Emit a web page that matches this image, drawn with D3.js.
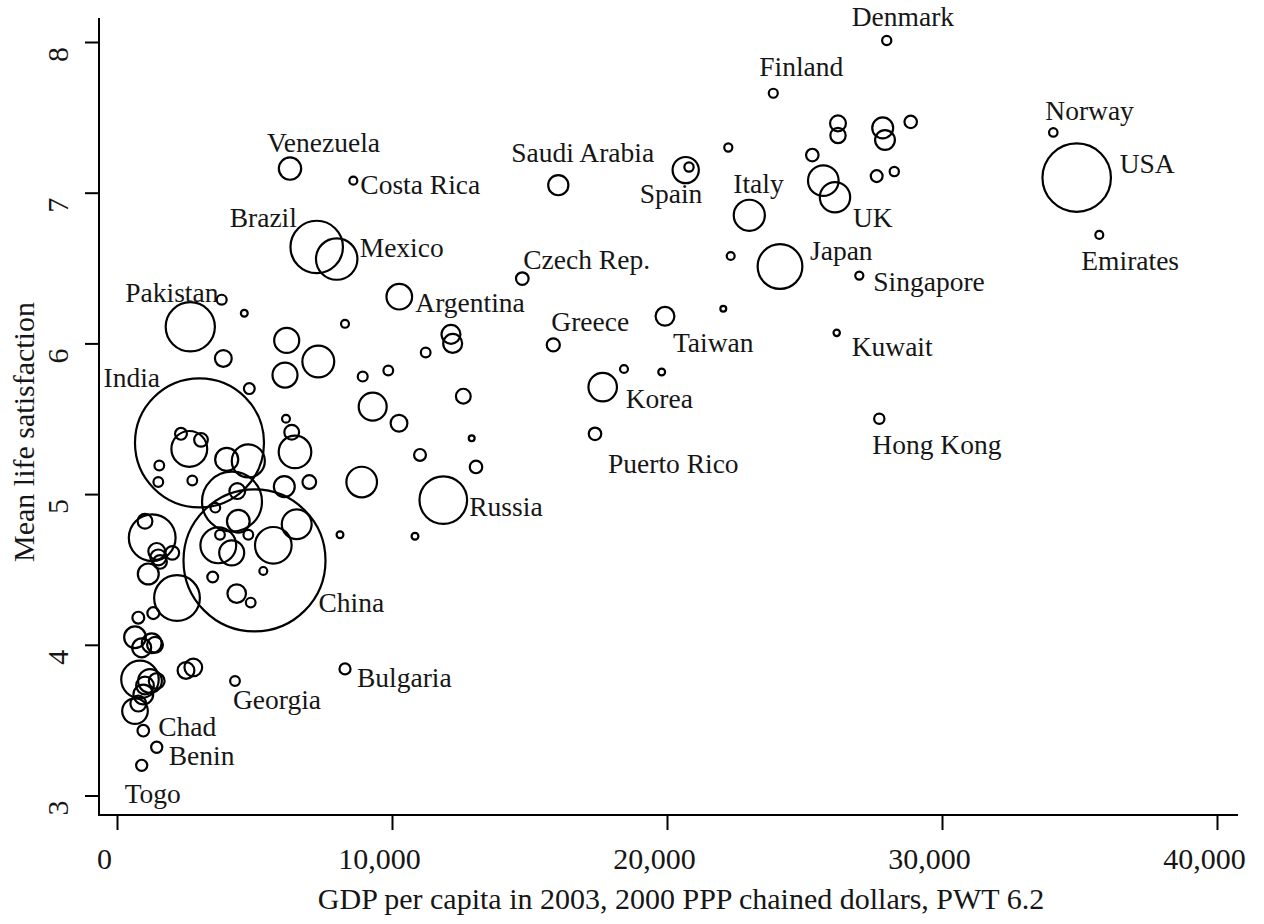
<!DOCTYPE html>
<html><head><meta charset="utf-8">
<script src="https://cdn.jsdelivr.net/npm/d3@7"></script>
<style>
html,body{margin:0;padding:0;background:#fff;}
svg{display:block;}
text{font-family:"Liberation Serif","DejaVu Serif",serif;fill:#161616;}
</style></head><body>
<svg id="chart" width="1264" height="924"></svg>
<script>
// ---- data ----
const countries = ["Denmark","Finland","Norway","USA","Emirates","Venezuela","Costa Rica","Brazil","Mexico","Saudi Arabia",
 "Spain","Italy","UK","Japan","Singapore","Kuwait","Hong Kong","Czech Rep.","Argentina","Greece",
 "Taiwan","Korea","Puerto Rico","Pakistan","India","China","Russia","Bulgaria","Georgia","Chad",
 "Benin","Togo",
 "","","","","","","","","","","","","","","","","","","","","","","","","","","","","","","","","","","","","","","","","","","","","","","","","","","","","","","","","","","","","","","",""];
const gdp = [27990,23865,34047,34898,35720,6291,8594,7262,7989,16047,
 20680,22993,26109,24109,26993,26171,27720,14738,10265,15865,
 19927,17662,17382,2665,3000,5000,11865,8291,4291,956,
 1444,898,
 26218,26218,27844,27927,28862,22229,25284,25684,27625,28265,
 20800,22316,22047,18436,19807,3807,4629,8291,6171,7320,
 6109,3867,8935,4811,9298,6145,6353,6473,2629,2327,
 3055,3989,4775,1538,1502,2738,4182,6084,6993,8898,
 4374,3575,4411,3684,3745,4775,4171,5684,6535,5320,
 3480,4353,4862,8109,10836,12145,12207,11225,9865,12593,
 10255,12898,11018,13055,1018,1280,1444,1502,1564,2011,
 1138,2182,1320,775,655,898,1262,1382,2509,2775,
 836,1200,1018,1444,956,775,655];
const life = [8.01,7.66,7.40,7.10,6.72,7.16,7.08,6.64,6.56,7.05,
 7.15,6.85,6.97,6.51,6.45,6.07,5.50,6.43,6.31,5.99,
 6.18,5.71,5.40,6.11,5.34,4.56,4.96,3.84,3.76,3.43,
 3.32,3.20,
 7.46,7.38,7.43,7.35,7.47,7.30,7.25,7.08,7.11,7.14,
 7.17,6.58,6.23,5.83,5.81,6.29,6.20,6.13,6.02,5.88,
 5.79,5.90,5.78,5.70,5.58,5.50,5.41,5.28,5.30,5.40,
 5.36,5.23,5.22,5.19,5.08,5.09,4.95,5.05,5.08,5.08,
 5.02,4.91,4.82,4.66,4.73,4.73,4.61,4.66,4.80,4.49,
 4.45,4.34,4.28,4.73,4.72,6.06,6.00,5.94,5.82,5.65,
 5.47,5.37,5.26,5.18,4.82,4.71,4.62,4.58,4.55,4.61,
 4.47,4.31,4.21,4.18,4.05,3.98,4.01,4.00,3.83,3.85,
 3.77,3.76,3.73,3.76,3.67,3.61,3.56];
const pop = [5.4,5.2,4.6,300,4.0,32,4.0,176,110,26,
 44,62,59,128,4.2,2.6,6.8,10.2,42,11,
 22.6,52,10,155,1065,1290,145,7.8,6,8.6,
 8,8,
 16,15,28,25,10,4.2,10,60,9,5.5,
 5.5,4,2.2,4,3,6.3,3,4,40,65,
 40,18,6.3,7.5,50,4,14,68,82,9,
 12,34,70,6,6,6,230,28,12,60,
 16,6,33,82,6,6,40,86,57,4,
 7.5,22,6,3,3,23,23,6,6,14,
 18,2.2,9,10,14,140,18,16,12,12,
 28,134,9,9,30,23,25,16,18,20,
 90,36,20,16,25,16,42];
const xTicks = [0,10000,20000,30000,40000];
const yTicks = [3,4,5,6,7,8];
const xTitle = "GDP per capita in 2003, 2000 PPP chained dollars, PWT 6.2";
const yTitle = "Mean life satisfaction";
// label placement (offset of text start/baseline from marker centre)
const labelOffset = {
 "Denmark":[-35,-14],"Finland":[-14,-17],"Norway":[-8,-12],"USA":[43,-5],"Emirates":[-18,35],
 "Venezuela":[-23,-17],"Costa Rica":[7,13],"Brazil":[-87,-20],"Mexico":[23,-2],"Saudi Arabia":[-47,-23],
 "Spain":[-46,33],"Italy":[-16,-22],"UK":[18,30],"Japan":[30,-7],"Singapore":[14,15],
 "Kuwait":[15,23],"Hong Kong":[-7,35],"Czech Rep.":[1,-10],"Argentina":[16,15],"Greece":[-2,-14],
 "Taiwan":[8,36],"Korea":[23,21],"Puerto Rico":[13,39],"Pakistan":[-65,-25],"India":[-96,-56],
 "China":[64,52],"Russia":[26,16],"Bulgaria":[12,18],"Georgia":[-2,28],"Chad":[15,5],
 "Benin":[12,18],"Togo":[-17,38]
};

const data = gdp.map((g,i)=>({name:countries[i]||"", gdp:g, life:life[i], pop:pop[i]}));

// ---- chart ----
const svg = d3.select("#chart");
svg.append("rect").attr("width",1264).attr("height",924).attr("fill","#fff");

const x = d3.scaleLinear().domain([0,40000]).range([117,1217]);
const y = d3.scaleLinear().domain([3,8]).range([795.5,42]);
const r = d3.scaleSqrt().domain([0,1290]).range([0,71]);

const axisX0 = 99, axisY0 = 815;

// x axis
const gx = svg.append("g").attr("transform",`translate(0,${axisY0})`)
  .call(d3.axisBottom(x).tickValues(xTicks).tickSize(15).tickFormat(d3.format(",")));
gx.select(".domain").remove();
gx.selectAll(".tick line").attr("stroke","#000").attr("stroke-width",2);
gx.selectAll(".tick text").attr("y",54).attr("dy",null).attr("dx",-13)
  .attr("font-size",30).attr("fill","#161616").attr("font-family","Liberation Serif");

// y axis
const gy = svg.append("g").attr("transform",`translate(${axisX0},0)`)
  .call(d3.axisLeft(y).tickValues(yTicks).tickSize(14).tickFormat(d3.format("d")));
gy.select(".domain").remove();
gy.selectAll(".tick line").attr("stroke","#000").attr("stroke-width",2);
gy.selectAll(".tick text").attr("transform","rotate(-90)")
  .attr("x",-12).attr("y",-31).attr("dy",null).attr("text-anchor","middle")
  .attr("font-size",30).attr("fill","#161616").attr("font-family","Liberation Serif");

// axis lines
svg.append("line").attr("x1",axisX0).attr("x2",axisX0).attr("y1",18).attr("y2",axisY0+1)
  .attr("stroke","#000").attr("stroke-width",2);
svg.append("line").attr("x1",axisX0-1).attr("x2",1238).attr("y1",axisY0).attr("y2",axisY0)
  .attr("stroke","#000").attr("stroke-width",2);

// titles
svg.append("text").attr("x",681).attr("y",909).attr("text-anchor","middle")
  .attr("font-size",30).text(xTitle);
svg.append("text").attr("transform","translate(34,432) rotate(-90)").attr("text-anchor","middle")
  .attr("font-size",30).text(yTitle);

// bubbles
svg.append("g").selectAll("circle").data(data).join("circle")
  .attr("cx",d=>x(d.gdp)).attr("cy",d=>y(d.life)).attr("r",d=>r(d.pop))
  .attr("fill","none").attr("stroke","#000").attr("stroke-width",2.2);

// labels
svg.append("g").selectAll("text").data(data.filter(d=>d.name && labelOffset[d.name])).join("text")
  .attr("x",d=>x(d.gdp)+labelOffset[d.name][0])
  .attr("y",d=>y(d.life)+labelOffset[d.name][1])
  .attr("font-size",27.5).text(d=>d.name);
</script>
</body></html>
